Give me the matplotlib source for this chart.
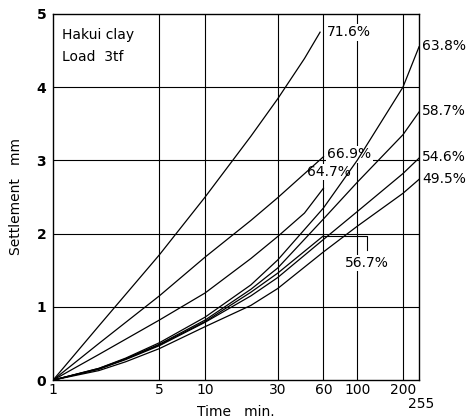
import numpy as np
import matplotlib.pyplot as plt

# settlement (mm) against time (min) for each degree of saturation
t_716 = [1, 2, 5, 10, 20, 30, 45, 57]
s_716 = [0, 0.74, 1.71, 2.5, 3.33, 3.84, 4.39, 4.75]

t_669 = [1, 2, 5, 10, 20, 30, 60]
s_669 = [0, 0.5, 1.15, 1.68, 2.18, 2.49, 3.05]

t_647 = [1, 2, 5, 10, 20, 30, 45, 60]
s_647 = [0, 0.35, 0.82, 1.19, 1.66, 1.96, 2.28, 2.62]

t_long = [1, 2, 3, 5, 10, 20, 30, 60, 100, 200, 255]
s_638 = [0, 0.16, 0.30, 0.51, 0.86, 1.30, 1.64, 2.35, 3.0, 4.0, 4.55]
s_587 = [0, 0.16, 0.29, 0.49, 0.82, 1.24, 1.53, 2.2, 2.7, 3.35, 3.66]
s_546 = [0, 0.15, 0.28, 0.47, 0.79, 1.15, 1.40, 1.92, 2.3, 2.82, 3.03]
s_495 = [0, 0.13, 0.25, 0.43, 0.73, 1.02, 1.25, 1.75, 2.1, 2.55, 2.74]

t_567 = [1, 2, 3, 5, 10, 20, 30, 60]
s_567 = [0, 0.15, 0.29, 0.48, 0.8, 1.2, 1.46, 1.97]

x_ticks = [1, 5, 10, 30, 60, 100, 200]
y_ticks = [0, 1, 2, 3, 4, 5]

curves = [(t_716, s_716), (t_669, s_669), (t_647, s_647), (t_long, s_638),
          (t_long, s_587), (t_567, s_567), (t_long, s_546), (t_long, s_495)]

fig = plt.figure(figsize=(4.74, 4.2), dpi=100)
ax = fig.add_axes([0.112, 0.095, 0.772, 0.872])

for t, s in curves:
    ax.plot(t, s, color='black', lw=0.9, zorder=3)

ax.set_xscale('log')
ax.set_xlim(1, 255)
ax.set_ylim(0, 5)

# grid drawn by hand so the percentage boxes can sit on top of it
for xv in x_ticks[1:]:
    ax.axvline(xv, color='black', lw=0.8, zorder=1)
for yv in y_ticks[1:-1]:
    ax.axhline(yv, color='black', lw=0.8, zorder=1)

ax.set_xticks(x_ticks)
ax.set_xticklabels([str(v) for v in x_ticks])
ax.xaxis.set_minor_locator(plt.NullLocator())
ax.set_yticks(y_ticks)
ax.set_yticklabels([str(v) for v in y_ticks], fontweight='bold')
ax.tick_params(length=0, labelsize=10, pad=2)
ax.tick_params(axis='y', pad=5)
ax.text(262, -0.32, '255', ha='center', va='center', fontsize=10)

for sp in ax.spines.values():
    sp.set_linewidth(1.0)

ax.set_xlabel('Time   min.', fontsize=10, labelpad=6)
ax.set_ylabel('Settlement   mm', fontsize=10, labelpad=10)

ax.text(1.15, 4.71, 'Hakui clay', fontsize=10, va='center')
ax.text(1.15, 4.41, 'Load  3tf', fontsize=10, va='center')

box = dict(fc='white', ec='none', pad=1.0)
ax.text(63.5, 4.75, '71.6%', fontsize=10, va='center', bbox=box, zorder=2)
ax.text(63.5, 3.08, '66.9%', fontsize=10, va='center', bbox=box, zorder=2)
ax.text(46.9, 2.84, '64.7%', fontsize=10, va='center', bbox=box, zorder=2)
for lab, y in [('63.8%', 4.56), ('58.7%', 3.68), ('54.6%', 3.04), ('49.5%', 2.74)]:
    ax.text(268, y, lab, fontsize=10, va='center', clip_on=False)

# bracket from the end of the 56.7 % curve down to its label
lab_x, lab_y = 116, 1.6
ax.plot([t_567[-1], lab_x, lab_x], [s_567[-1], s_567[-1], lab_y + 0.18],
        color='black', lw=0.8, zorder=3)
ax.text(lab_x, lab_y, '56.7%', fontsize=10, ha='center', va='center',
        bbox=box, zorder=2)

fig.savefig('out.png', dpi=100)
